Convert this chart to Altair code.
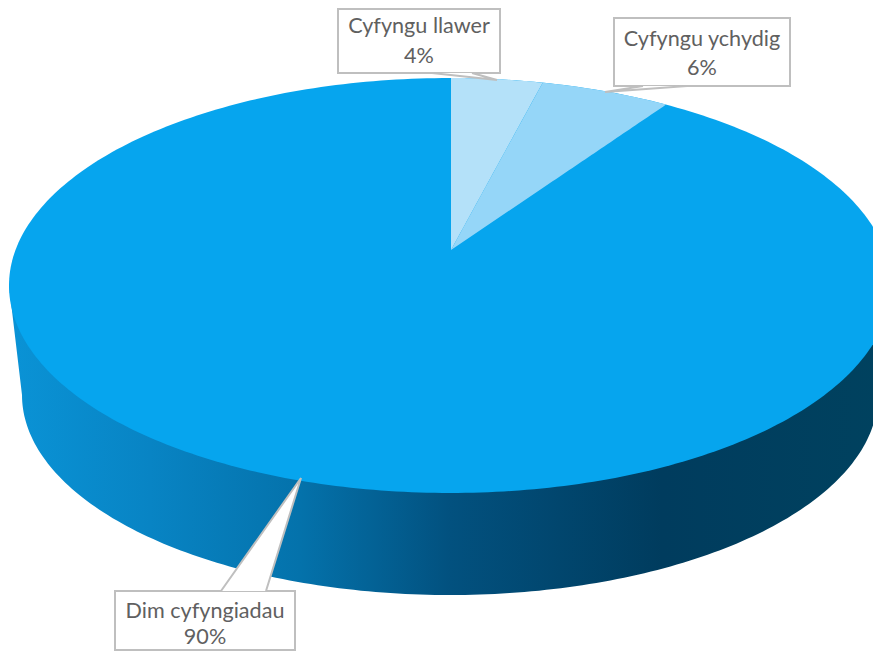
import numpy as np
import pandas as pd
import altair as alt

# ---- chart values ----
categories = ["Cyfyngu llawer", "Cyfyngu ychydig", "Dim cyfyngiadau"]
shares = [4.0, 5.6, 90.4]
percent_labels = ["4%", "6%", "90%"]

# ---- styles ----
slice_colors = ["#B4E1F9", "#95D6F8", "#06A5EE"]
side_stops = [(0.0, "#0A93D6"), (0.16, "#0884C4"), (0.33, "#0472AB"), (0.5, "#02517F"),
              (0.74, "#003C5E"), (1.0, "#00425F")]
LINE = "#BFBFBF"
TEXT = "#606060"
FONT = "Lato"
FONT_SIZE = 21.6

# ---- layout (page pixels) ----
W, H, M = 873, 651, 8                        # visible right and bottom limits, page margin
CX, CY, RX, RY = 450, 285.5, 441, 207.5      # top face
BX, BY, BRX, BRY = 450, 395, 428, 200        # bottom rim
APEX_Y = 250                                 # where the slices meet
boxes = [(338, 500, 9, 73), (614, 790, 18, 86), (115, 295, 591, 650)]
leaders = [((432, 73), (497, 80), (472, 73)),
           ((687, 86), (605, 92), (643, 86)),
           ((221, 591), (301, 478), (266, 591))]
text_pos = [(419, 27, 57), (702, 40, 69), (205, 612, 638)]

xs = alt.Scale(domain=[M, W], nice=False, zero=False)
ys = alt.Scale(domain=[H, M], nice=False, zero=False)
X = alt.X("x:Q", scale=xs, axis=None)
Y = alt.Y("y:Q", scale=ys, axis=None)


def poly_df(points):
    pts = list(points)
    rows = []
    for x in sorted({p[0] for p in pts}):
        hits = []
        for a, b in zip(pts, pts[1:] + pts[:1]):
            if min(a[0], b[0]) <= x <= max(a[0], b[0]):
                if a[0] == b[0]:
                    hits += [a[1], b[1]]
                else:
                    hits.append(a[1] + (x - a[0]) / (b[0] - a[0]) * (b[1] - a[1]))
        rows.append({"x": x, "y": min(hits), "y2": max(hits)})
    return pd.DataFrame(rows)


def area_layer(points, fill):
    return alt.Chart(poly_df(points)).mark_area(color=fill, interpolate="linear", clip=False).encode(
        x=X, y=Y, y2="y2:Q")


# perspective mapping of a pie angle onto the top ellipse, centre goes to the apex
T = np.arctanh((CY - APEX_Y) / RY)


def rim(share_pct):
    th = np.radians(share_pct * 3.6)
    u, v = np.sin(th), np.cos(th)
    w = v * np.sinh(T) + np.cosh(T)
    vv = v * np.cosh(T) + np.sinh(T)
    return (CX + RX * u / w, CY - RY * vv / w)


apex = (CX + 1, APEX_Y)
layers = []

# side wall
tt = np.radians(np.linspace(180, 360, 181))
bottom = [(BX + BRX * np.cos(t), BY - BRY * np.sin(t)) for t in tt]
wall = [(CX - RX, CY)] + bottom + [(CX + RX, CY)]
side_grad = alt.Gradient(gradient="linear", x1=0, x2=1, y1=0, y2=0,
                         stops=[alt.GradientStop(offset=o, color=c) for o, c in side_stops])
layers.append(area_layer(wall, side_grad))

# top face: the largest slice
tt = np.radians(np.linspace(0, 360, 361)[:-1])
layers.append(area_layer([(CX + RX * np.cos(t), CY - RY * np.sin(t)) for t in tt], slice_colors[2]))

# small slices
start = 0.0
for i in range(2):
    end = start + shares[i]
    arc = [rim(p) for p in np.linspace(start, end, 40)]
    if i == 0:
        arc[0] = (apex[0], arc[0][1])
    layers.append(area_layer([apex] + arc, slice_colors[i]))
    start = end

# callouts
for i in range(3):
    x0, x1, y0, y1 = boxes[i]
    layers.append(alt.Chart(pd.DataFrame([{"x": x0, "x2": x1, "y": y0, "y2": y1}])).mark_rect(
        fill="white", stroke=LINE, strokeWidth=2).encode(x=X, x2="x2:Q", y=Y, y2="y2:Q"))
    a, tip, b = leaders[i]
    layers.append(area_layer([a, tip, b], "white"))
    layers.append(alt.Chart(pd.DataFrame([
        {"x": a[0], "y": a[1], "o": 0}, {"x": tip[0], "y": tip[1], "o": 1}, {"x": b[0], "y": b[1], "o": 2}
    ])).mark_line(color=LINE, strokeWidth=2).encode(x=X, y=Y, order="o:Q"))
    tx, ty1, ty2 = text_pos[i]
    layers.append(alt.Chart(pd.DataFrame([
        {"x": tx, "y": ty1, "t": categories[i]}, {"x": tx, "y": ty2, "t": percent_labels[i]}
    ])).mark_text(font=FONT, fontSize=FONT_SIZE, color=TEXT, align="center", baseline="middle").encode(
        x=X, y=Y, text="t:N"))

chart = alt.layer(*layers).properties(
    width=W - M, height=H - M, padding=0, autosize=alt.AutoSizeParams(type="none")
).configure_view(stroke=None)

chart.save("out.html", embed_options={"renderer": "svg", "actions": False})
